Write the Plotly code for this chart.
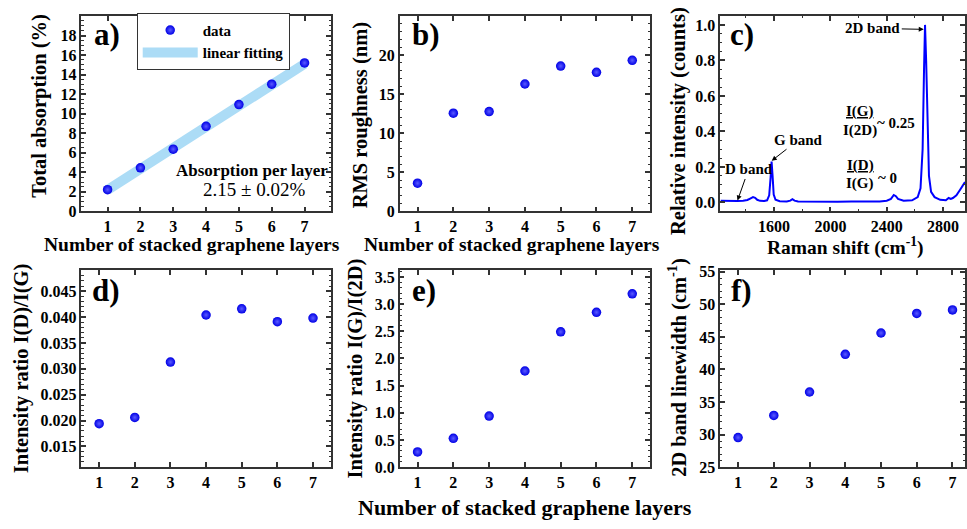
import plotly.graph_objects as go

W, H = 967, 529
FONT = "Liberation Serif"

# ---------------- data ----------------
layers = [1, 2, 3, 4, 5, 6, 7]
absorption = [2.22, 4.46, 6.36, 8.70, 10.93, 13.02, 15.20]
fit_x = [1, 7]
fit_y = [2.2, 15.1]
roughness = [3.6, 12.56, 12.77, 16.3, 18.6, 17.8, 19.33]
raman_shift = [1220, 1260, 1300, 1340, 1380, 1410, 1430, 1450, 1465, 1480, 1500, 1530,
               1550, 1565, 1575, 1582, 1589, 1597, 1610, 1640, 1690, 1715, 1730, 1745,
               1770, 1850, 1950, 2050, 2150, 2250, 2350, 2400, 2430, 2450, 2465, 2480,
               2520, 2580, 2620, 2640, 2655, 2665, 2672, 2680, 2690, 2700, 2715, 2740,
               2780, 2820, 2840, 2855, 2870, 2895, 2920, 2940, 2956]
raman_int = [0.010, 0.008, 0.009, 0.008, 0.010, 0.014, 0.022, 0.030, 0.026, 0.015, 0.009, 0.008,
             0.012, 0.040, 0.140, 0.230, 0.150, 0.045, 0.015, 0.007, 0.006, 0.010, 0.018, 0.010,
             0.005, 0.004, 0.005, 0.004, 0.005, 0.004, 0.006, 0.010, 0.020, 0.042, 0.035, 0.020,
             0.010, 0.012, 0.030, 0.080, 0.300, 0.750, 1.000, 0.800, 0.400, 0.150, 0.060, 0.030,
             0.015, 0.012, 0.025, 0.020, 0.025, 0.040, 0.070, 0.100, 0.115]
ratio_DG = [0.0194, 0.0206, 0.0313, 0.0404, 0.0416, 0.0391, 0.0398]
ratio_G2D = [0.28, 0.53, 0.94, 1.77, 2.49, 2.85, 3.19]
linewidth_2D = [29.55, 32.94, 36.54, 42.32, 45.6, 48.6, 49.15]


def fx(px):
    return px / W


def fy(py):
    return 1 - py / H


marker = dict(size=9.5, color="#0000e6",
              gradient=dict(type="radial", color="#5a5aff"), line=dict(width=0))

fig = go.Figure()

# a
fig.add_trace(go.Scatter(x=fit_x, y=fit_y, mode="lines", name="linear fitting",
                         line=dict(color="#acdcf6", width=10), xaxis="x", yaxis="y"))
fig.add_trace(go.Scatter(x=layers, y=absorption, mode="markers", name="data",
                         marker=marker, xaxis="x", yaxis="y"))
# b
fig.add_trace(go.Scatter(x=layers, y=roughness, mode="markers", marker=marker,
                         showlegend=False, xaxis="x2", yaxis="y2"))
# c
fig.add_trace(go.Scatter(x=raman_shift, y=raman_int, mode="lines",
                         line=dict(color="#0000ff", width=2), showlegend=False,
                         xaxis="x3", yaxis="y3"))
# d
fig.add_trace(go.Scatter(x=layers, y=ratio_DG, mode="markers", marker=marker,
                         showlegend=False, xaxis="x4", yaxis="y4"))
# e
fig.add_trace(go.Scatter(x=layers, y=ratio_G2D, mode="markers", marker=marker,
                         showlegend=False, xaxis="x5", yaxis="y5"))
# f
fig.add_trace(go.Scatter(x=layers, y=linewidth_2D, mode="markers", marker=marker,
                         showlegend=False, xaxis="x6", yaxis="y6"))


def axis(domain, rng, anchor, tickvals=None, fmt=None, minor_dtick=None):
    d = dict(domain=domain, range=rng, anchor=anchor, showline=True, linecolor="#333",
             linewidth=1.5, mirror="ticks", ticks="inside", ticklen=5, tickwidth=1.5,
             tickcolor="#333", showgrid=False, zeroline=False,
             tickfont=dict(family=FONT, size=16, color="black", weight="bold"))
    if tickvals is not None:
        d["tickvals"] = tickvals
    if fmt:
        d["tickformat"] = fmt
    if minor_dtick:
        d["minor"] = dict(ticks="inside", ticklen=2.5, tickwidth=1, tickcolor="#333",
                          dtick=minor_dtick, showgrid=False)
    return d


top_y = [fy(210.7), fy(9.3)]
bot_y = [fy(474.5), fy(271.7)]
xa = [fx(81.5), fx(331.5)]
xb = [fx(400.5), fx(651.5)]
xc = [fx(721.7), 1.0]

fig.update_layout(
    width=W, height=H, margin=dict(l=0, r=0, t=0, b=0),
    paper_bgcolor="white", plot_bgcolor="white",
    xaxis=axis(xa, [0.2, 7.8], "y", layers),
    yaxis=axis(top_y, [0, 20], "x", list(range(0, 19, 2)), minor_dtick=0.5),
    xaxis2=axis(xb, [0.5, 7.5], "y2", layers),
    yaxis2=axis(top_y, [0, 25], "x2", [0, 5, 10, 15, 20], minor_dtick=1),
    xaxis3=axis(xc, [1217, 2956], "y3", [1600, 2000, 2400, 2800], minor_dtick=200),
    yaxis3=axis(top_y, [-0.05, 1.05], "x3", [0, 0.2, 0.4, 0.6, 0.8, 1.0], ".1f", 0.05),
    xaxis4=axis(xa, [0.5, 7.5], "y4", layers),
    yaxis4=axis(bot_y, [0.011, 0.049], "x4", [0.015, 0.020, 0.025, 0.030, 0.035, 0.040, 0.045], ".3f", 0.001),
    xaxis5=axis(xb, [0.5, 7.5], "y5", layers),
    yaxis5=axis(bot_y, [0, 3.62], "x5", [0, 0.5, 1.0, 1.5, 2.0, 2.5, 3.0, 3.5], ".1f", 0.1),
    xaxis6=axis(xc, [0.5, 7.35], "y6", layers),
    yaxis6=axis(bot_y, [25, 55.2], "x6", [25, 30, 35, 40, 45, 50, 55], minor_dtick=1),
    legend=dict(x=fx(137), y=fy(6), xanchor="left", yanchor="top",
                bordercolor="#333", borderwidth=1, bgcolor="white",
                font=dict(family=FONT, size=15, color="black", weight="bold"),
                traceorder="reversed", tracegroupgap=0, itemwidth=55),
    showlegend=True,
)

ann = []


def txt(px, py, text, size=19, bold=True, angle=0, xanchor="center", color="black"):
    ann.append(dict(x=fx(px), y=fy(py), xref="paper", yref="paper", text=text,
                    showarrow=False, textangle=angle, xanchor=xanchor, yanchor="middle",
                    font=dict(family=FONT, size=size, color=color,
                              weight="bold" if bold else "normal")))


# panel labels
for px, py, t in [(92, 28, "a)"), (411, 28, "b)"), (730, 28, "c)"),
                  (90, 292, "d)"), (411, 292, "e)"), (731, 292, "f)")]:
    txt(px, py, t, size=31, xanchor="left")

# y axis titles
YT = 20.5
txt(40, 102, "Total absorption (%)", size=YT, angle=-90)
txt(361.5, 112, "RMS roughness (nm)", size=YT, angle=-90)
txt(680, 118, "Relative intensity (counts)", size=YT, angle=-90)
txt(21.5, 372, "Intensity ratio I(D)/I(G)", size=YT, angle=-90)
txt(356.5, 373, "Intensity ratio I(G)/I(2D)", size=YT, angle=-90)
txt(679.5, 372, "2D band linewidth (cm<sup>-1</sup>)", size=YT, angle=-90)

# x axis titles
XT = 19.5
txt(192, 245, "Number of stacked graphene layers", size=XT)
txt(513, 245, "Number of stacked graphene layers", size=XT)
txt(847, 247, "Raman shift (cm<sup>-1</sup>)", size=XT)
txt(526, 516, "Number of stacked graphene layers", size=22)

# panel a text (two lines in one block)
ann.append(dict(x=fx(253), y=fy(178.5), xref="paper", yref="paper",
                text="<b><span style='font-size:17px'>Absorption per layer</span></b><br>"
                     "<span style='font-size:19px'> 2.15 ± 0.02%</span>",
                showarrow=False, xanchor="center", yanchor="middle", align="center",
                font=dict(family=FONT, size=15, color="black", weight="normal")))

# panel c texts
txt(862, 108, "<u>I(G)</u>", size=15)
txt(862, 127, "I(2D)", size=15)
txt(898, 120, "~ 0.25", size=15)
txt(862, 163, "<u>I(D)</u>", size=15)
txt(862, 182, "I(G)", size=15)
txt(889, 176, "~ 0", size=15)


def arrow_ann(x, y, text, ax, ay):
    ann.append(dict(x=x, y=y, xref="x3", yref="y3", text=text, showarrow=True,
                    ax=ax, ay=ay, arrowhead=2, arrowsize=1, arrowwidth=1,
                    arrowcolor="black",
                    font=dict(family=FONT, size=15, color="black", weight="bold")))


arrow_ann(1340, 0.011, "D band", 11, -31)
arrow_ann(1583, 0.235, "G band", 27, -21)
arrow_ann(2663, 0.975, "2D band", -51, -1)

fig.update_layout(annotations=ann)
fig.write_html("out.html")
